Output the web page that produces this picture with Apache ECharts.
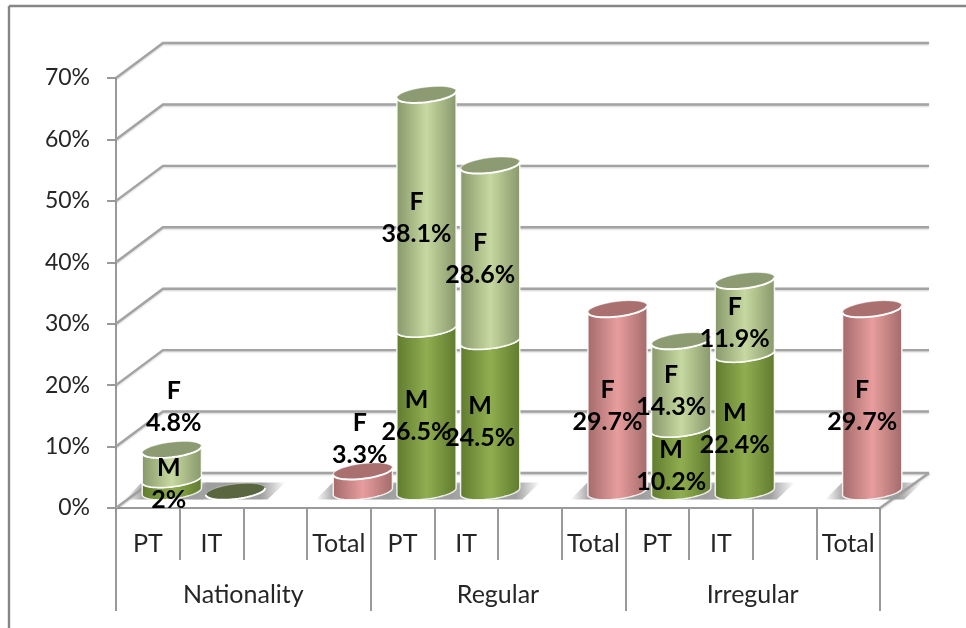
<!DOCTYPE html>
<html>
<head>
<meta charset="utf-8">
<style>html,body{margin:0;padding:0;background:#fff}#chart{width:966px;height:628px}</style>
<script src="https://cdn.jsdelivr.net/npm/echarts@6/dist/echarts.min.js"></script>
</head>
<body>
<div id="chart"></div>
<script>
// Student percentages by group; each group has PT, IT, a blank slot and Total.
const groups = ['Nationality', 'Regular', 'Irregular'];
const slots = ['PT', 'IT', '', 'Total', 'PT', 'IT', '', 'Total', 'PT', 'IT', '', 'Total'];
const maleValues = [2, 0, null, null, 26.5, 24.5, null, null, 10.2, 22.4, null, null];
const femaleValues = [4.8, null, null, null, 38.1, 28.6, null, null, 14.3, 11.9, null, null];
const totalValues = [null, null, null, 3.3, null, null, null, 29.7, null, null, null, 29.7];
const yTicks = [0, 10, 20, 30, 40, 50, 60, 70];

// Oblique projection used for the floor, the walls and the cylinders.
const DEPTH_X = 48, DEPTH_Y = 35;
const TILT = 0.115, RY = 7.5;

const palettes = {
  M: { edge: '#5f7a2e', mid: '#90ae50', top: '#5a6640' },
  F: { edge: '#87976a', mid: '#c7d9a1', top: '#8d9b72' },
  T: { edge: '#a36a6a', mid: '#e89d9d', top: '#aa7070' }
};

// Hand-placed labels, shifted away from the default spot on short cylinders.
const labelShift = { 'F0': [12, -64], 'M0': [7, -7], 'T3': [7, -48] };

function ellipsePoint(cx, cy, rx, t) {
  const c = Math.cos(t) * rx;
  return [cx + c, cy + RY * Math.sin(t) - TILT * c];
}
function arc(cx, cy, rx, from, to) {
  const pts = [];
  for (let i = 0; i <= 32; i++) pts.push(ellipsePoint(cx, cy, rx, from + (to - from) * i / 32));
  return pts;
}

function centre(api, cat, v) {
  const p = api.coord([cat, v]);
  return [p[0] + DEPTH_X / 2, p[1] - DEPTH_Y / 2 + 1];
}

function cylinderItem(key) {
  return function (params, api) {
    const cat = api.value(0), from = api.value(1), to = api.value(2);
    const rx = api.size([1, 0])[0] * 0.465;
    const b = centre(api, cat, from), t = centre(api, cat, to);
    const pal = palettes[key];
    const children = [];
    if (to > from) {
      const body = arc(t[0], t[1], rx, Math.PI, 2 * Math.PI).concat(arc(b[0], b[1], rx, 0, Math.PI));
      children.push({
        type: 'polygon',
        shape: { points: body },
        style: {
          fill: new echarts.graphic.LinearGradient(0, 0, 1, 0, [
            { offset: 0, color: pal.edge },
            { offset: 0.5, color: pal.mid },
            { offset: 1, color: pal.edge }
          ]),
          stroke: 'rgba(255,255,255,0.85)',
          lineWidth: 1.5
        }
      });
    }
    children.push({
      type: 'polygon',
      shape: { points: arc(t[0], t[1], rx, 0, 2 * Math.PI) },
      style: { fill: pal.top, stroke: 'rgba(255,255,255,0.35)', lineWidth: 1 }
    });
    children.push({
      type: 'polyline',
      shape: { points: arc(t[0], t[1], rx, 0, Math.PI) },
      style: { fill: null, stroke: '#ffffff', lineWidth: 2 }
    });
    return { type: 'group', children };
  };
}

function wallItem(params, api) {
  const v = api.value(1);
  const half = api.size([1, 0])[0] / 2;
  const a = api.coord([0, v]);
  const e = api.coord([slots.length - 1, v]);
  const left = a[0] - half, right = e[0] + half;
  const lineStyle = {
    fill: null, stroke: '#a3a3a3', lineWidth: 2.4,
    shadowColor: 'rgba(0,0,0,0.18)', shadowBlur: 2, shadowOffsetY: 1
  };
  const children = [{
    type: 'polyline',
    shape: { points: [[left, a[1]], [left + DEPTH_X - 1, a[1] - DEPTH_Y], [right + DEPTH_X + 1, a[1] - DEPTH_Y]] },
    style: lineStyle
  }];
  if (v === 0) {
    // right-hand floor edge
    children.push({
      type: 'polyline',
      shape: { points: [[right, a[1]], [right + DEPTH_X + 1, a[1] - DEPTH_Y]] },
      style: lineStyle
    });
  }
  return { type: 'group', children };
}

// Soft floor shadow, skewed along the floor's depth direction.
function shadowItem(params, api) {
  const c = centre(api, api.value(0), 0);
  return {
    type: 'polygon',
    shape: { points: [[c[0] - 47, c[1] + 8], [c[0] - 30, c[1] - 9], [c[0] + 50, c[1] - 9], [c[0] + 32, c[1] + 8]] },
    style: {
      fill: new echarts.graphic.LinearGradient(0, 0, 1, 0, [
        { offset: 0, color: 'rgba(155,155,155,0)' },
        { offset: 0.2, color: 'rgba(155,155,155,0.95)' },
        { offset: 0.75, color: 'rgba(155,155,155,0.95)' },
        { offset: 1, color: 'rgba(155,155,155,0)' }
      ])
    }
  };
}

function labelItem(params, api) {
  const cat = api.value(0), from = api.value(1), to = api.value(2);
  const info = labelRows[params.dataIndex];
  const c = centre(api, cat, (from + to) / 2);
  const s = labelShift[info.key + cat] || [0, 0];
  return {
    type: 'text',
    style: {
      text: (info.key === 'T' ? 'F' : info.key) + '\n' + info.value + '%',
      x: c[0] - 10 + s[0],
      y: c[1] + 6 + s[1],
      align: 'center',
      verticalAlign: 'middle',
      fontFamily: 'Lato',
      fontWeight: 'bold',
      fontSize: 25,
      lineHeight: 32,
      fill: '#000'
    }
  };
}

// Build stacked [slot, from, to] rows out of the value arrays.
const maleRows = [], femaleRows = [], totalRows = [], shadowRows = [], labelRows = [];
slots.forEach((_, i) => {
  const m = maleValues[i], f = femaleValues[i], t = totalValues[i];
  if (m !== null) {
    maleRows.push([i, 0, m]);
    shadowRows.push([i]);
    if (m > 0) labelRows.push({ key: 'M', value: m, row: [i, 0, m] });
  }
  if (f !== null) {
    femaleRows.push([i, m, m + f]);
    labelRows.push({ key: 'F', value: f, row: [i, m, m + f] });
  }
  if (t !== null) {
    totalRows.push([i, 0, t]);
    shadowRows.push([i]);
    labelRows.push({ key: 'T', value: t, row: [i, 0, t] });
  }
});

const axisGrey = { color: '#9a9a9a', width: 2 };
const frameStyle = { stroke: '#868686', lineWidth: 2.4 };
const option = {
  animation: false,
  backgroundColor: '#fff',
  textStyle: { fontFamily: 'Lato' },
  graphic: [
    { type: 'line', shape: { x1: 9, y1: 6, x2: 966, y2: 6 }, style: frameStyle, silent: true },
    { type: 'line', shape: { x1: 9, y1: 6, x2: 9, y2: 628 }, style: frameStyle, silent: true }
  ],
  grid: { left: 116, right: 86, top: 78, height: 430 },
  xAxis: [{
    type: 'category',
    data: slots,
    position: 'bottom',
    axisLine: { show: true, lineStyle: axisGrey },
    axisTick: { show: true, length: 52, interval: 0, lineStyle: axisGrey },
    axisLabel: { interval: 0, margin: 23, fontSize: 25, color: '#262626', fontFamily: 'Lato' },
    splitLine: { show: false }
  }, {
    type: 'category',
    data: groups,
    position: 'bottom',
    axisLine: { show: false },
    axisTick: { show: true, length: 103, interval: 0, lineStyle: axisGrey },
    axisLabel: { interval: 0, margin: 74, fontSize: 25, color: '#262626', fontFamily: 'Lato' },
    splitLine: { show: false }
  }],
  yAxis: {
    type: 'value',
    min: 0,
    max: 70,
    interval: 10,
    axisLine: { show: true, lineStyle: axisGrey },
    axisTick: { show: true, length: 9, lineStyle: axisGrey },
    axisLabel: { margin: 26, fontSize: 23, color: '#262626', fontFamily: 'Lato', formatter: '{value}%', padding: [12, 0, 0, 0] },
    splitLine: { show: false }
  },
  series: [
    { type: 'custom', name: 'walls', renderItem: wallItem, data: yTicks.map(v => [0, v]), z: 1, silent: true, clip: false },
    { type: 'custom', name: 'shadows', renderItem: shadowItem, data: shadowRows, encode: { x: 0 }, z: 2, silent: true, clip: false },
    { type: 'custom', name: 'M', renderItem: cylinderItem('M'), data: maleRows, encode: { x: 0, y: [1, 2] }, z: 3, clip: false },
    { type: 'custom', name: 'F', renderItem: cylinderItem('F'), data: femaleRows, encode: { x: 0, y: [1, 2] }, z: 4, clip: false },
    { type: 'custom', name: 'Total', renderItem: cylinderItem('T'), data: totalRows, encode: { x: 0, y: [1, 2] }, z: 4, clip: false },
    { type: 'custom', name: 'labels', renderItem: labelItem, data: labelRows.map(r => r.row), encode: { x: 0, y: [1, 2] }, z: 9, silent: true, clip: false }
  ]
};

echarts.init(document.getElementById('chart')).setOption(option);
</script>
</body>
</html>
